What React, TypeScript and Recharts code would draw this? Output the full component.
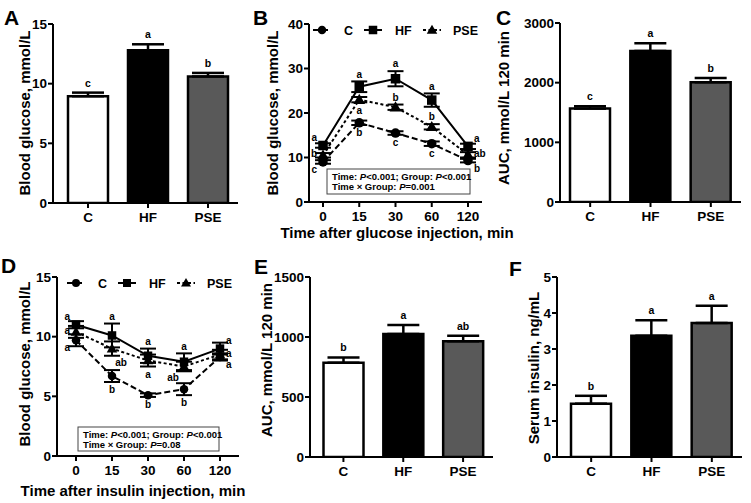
import React from "react";
import {
  BarChart,
  Bar,
  Cell,
  LineChart,
  Line,
  XAxis,
  YAxis,
  ErrorBar,
  LabelList,
} from "recharts";

const W = 751;
const H = 503;
const FONT = "Arial, 'Liberation Sans', Helvetica, sans-serif";

const GROUPS = ["C", "HF", "PSE"];
const GROUP_FILLS = ["#ffffff", "#000000", "#595959"];

// A - fasting blood glucose, mmol/L
const fastingGlucose = [8.95, 12.8, 10.6];
const fastingGlucoseSem = [0.3, 0.5, 0.3];
const fastingGlucoseSig = ["c", "a", "b"];

// B - glucose tolerance test, mmol/L
const ogttTimes = ["0", "15", "30", "60", "120"];
const ogttC = [9.0, 17.8, 15.5, 13.1, 9.3];
const ogttCSem = [0.4, 0.5, 0.4, 0.5, 0.4];
const ogttCSig = ["c", "b", "c", "c", "b"];
const ogttHF = [12.7, 25.9, 27.7, 22.9, 12.5];
const ogttHFSem = [0.5, 1.2, 1.7, 1.5, 0.6];
const ogttHFSig = ["a", "a", "a", "a", "a"];
const ogttPSE = [10.5, 23.0, 21.3, 16.9, 10.6];
const ogttPSESem = [0.5, 0.6, 0.6, 0.6, 0.6];
const ogttPSESig = ["b", "a", "b", "b", "ab"];

// C - OGTT area under curve
const ogttAuc = [1565, 2530, 2005];
const ogttAucSem = [40, 130, 75];
const ogttAucSig = ["c", "a", "b"];

// D - insulin tolerance test, mmol/L
const ittTimes = ["0", "15", "30", "60", "120"];
const ittC = [9.7, 6.7, 5.1, 5.6, 8.3];
const ittCSem = [0.5, 0.5, 0.15, 0.5, 0.3];
const ittCSig = ["a", "b", "b", "b", "a"];
const ittHF = [11.0, 10.1, 8.4, 7.9, 9.0];
const ittHFSem = [0.3, 1.0, 0.6, 0.7, 0.5];
const ittHFSig = ["a", "a", "a", "a", "a"];
const ittPSE = [10.4, 9.0, 8.0, 7.5, 8.5];
const ittPSESem = [0.5, 0.6, 0.5, 0.4, 0.4];
const ittPSESig = ["a", "ab", "a", "ab", "a"];

// E - ITT area under curve
const ittAuc = [785, 1025, 965];
const ittAucSem = [45, 75, 45];
const ittAucSig = ["b", "a", "ab"];

// F - serum insulin, ng/mL
const serumInsulin = [1.48, 3.37, 3.72];
const serumInsulinSem = [0.22, 0.43, 0.48];
const serumInsulinSig = ["b", "a", "a"];

const Y_AXIS_W = 40;
const X_AXIS_H = 30;
const axisStroke = { stroke: "#000", strokeWidth: 2 };
const tickStyle = { fontSize: 13.5, fontWeight: 700, fill: "#000", fontFamily: FONT };

const STYLE = {
  C: { shape: "circle", dash: "6 3", sideDy: 8 },
  HF: { shape: "square", dash: undefined, sideDy: -8 },
  PSE: { shape: "triangle", dash: "3 2.5", sideDy: -1 },
};

function Marker({ cx, cy, shape, size }: any) {
  if (cx == null || cy == null) return null;
  if (shape === "circle") return <circle cx={cx} cy={cy} r={size / 2} fill="#000" />;
  if (shape === "square")
    return <rect x={cx - size / 2} y={cy - size / 2} width={size} height={size} fill="#000" />;
  const w = size * 0.62;
  return (
    <polygon
      points={`${cx},${cy - size * 0.62} ${cx + w},${cy + size * 0.45} ${cx - w},${cy + size * 0.45}`}
      fill="#000"
    />
  );
}

function BarPanel({ plot, padLeft, values, sem, sig, max, ticks }: any) {
  const [x0, y0, x1, y1] = plot;
  const unit = (y1 - y0) / max;
  const data = GROUPS.map((name, i) => ({ name, value: values[i], sem: [0, sem[i]], sig: sig[i] }));
  const sigLabel = (p: any) => {
    const x = p.x ?? p.viewBox?.x;
    const y = p.y ?? p.viewBox?.y;
    const w = p.width ?? p.viewBox?.width;
    const top = y - sem[p.index] * unit;
    return (
      <text x={x + w / 2} y={top - 6} textAnchor="middle" fontSize={10.5} fontWeight={700} fontFamily={FONT} fill="#000">
        {p.value}
      </text>
    );
  };
  return (
    <div style={{ position: "absolute", left: 0, top: 0 }}>
      <BarChart
        width={W}
        height={H}
        data={data}
        margin={{ top: y0, right: W - x1, bottom: H - y1 - X_AXIS_H, left: x0 - Y_AXIS_W }}
      >
        <XAxis
          dataKey="name"
          height={X_AXIS_H}
          padding={{ left: padLeft, right: 0 }}
          axisLine={axisStroke}
          tickLine={axisStroke}
          tickSize={5}
          tickMargin={4}
          tick={tickStyle}
          interval={0}
        />
        <YAxis
          width={Y_AXIS_W}
          type="number"
          domain={[0, max]}
          ticks={ticks}
          allowDataOverflow
          axisLine={axisStroke}
          tickLine={axisStroke}
          tickSize={5}
          tickMargin={1}
          tick={tickStyle}
        />
        <Bar dataKey="value" barSize={40} stroke="#000" strokeWidth={2.5} isAnimationActive={false}>
          {data.map((d, i) => (
            <Cell key={d.name} fill={GROUP_FILLS[i]} />
          ))}
          <ErrorBar dataKey="sem" width={16} stroke="#000" strokeWidth={2.5} />
          <LabelList dataKey="sig" content={sigLabel} />
        </Bar>
      </BarChart>
    </div>
  );
}

function LinePanel({ plot, pad, times, series, max, ticks, size }: any) {
  const [x0, y0, x1, y1] = plot;
  const unit = (y1 - y0) / max;
  const data = times.map((t: string, i: number) => {
    const row: any = { time: t };
    series.forEach((s: any) => {
      row[s.key] = s.values[i];
      row[s.key + "Sem"] = s.sem[i];
      row[s.key + "Sig"] = s.sig[i];
    });
    return row;
  });
  const sigLabel = (s: any) => (p: any) => {
    const x = p.x ?? p.viewBox?.x;
    const y = p.y ?? p.viewBox?.y;
    const e = s.sem[p.index] * unit;
    const st = (STYLE as any)[s.key];
    let tx = x;
    let ty = y;
    let anchor = "middle";
    switch (s.place[p.index]) {
      case "L":
        tx = x - 6; ty = y + st.sideDy; anchor = "end"; break;
      case "R":
        tx = x + 6; ty = y + st.sideDy; anchor = "start"; break;
      case "A":
        ty = y - e - 7; break;
      case "B":
        ty = y + e + 8; break;
      case "BR":
        tx = x + 9; ty = y + e + 7; break;
      case "BL":
        tx = x - 11; ty = y + e + 7; break;
    }
    return (
      <text x={tx} y={ty} dy="0.32em" textAnchor={anchor} fontSize={10} fontWeight={700} fontFamily={FONT} fill="#000">
        {p.value}
      </text>
    );
  };
  return (
    <div style={{ position: "absolute", left: 0, top: 0 }}>
      <LineChart
        width={W}
        height={H}
        data={data}
        margin={{ top: y0, right: W - x1, bottom: H - y1 - X_AXIS_H, left: x0 - Y_AXIS_W }}
      >
        <XAxis
          dataKey="time"
          height={X_AXIS_H}
          padding={{ left: pad, right: pad }}
          axisLine={axisStroke}
          tickLine={axisStroke}
          tickSize={5}
          tickMargin={4}
          tick={tickStyle}
          interval={0}
        />
        <YAxis
          width={Y_AXIS_W}
          type="number"
          domain={[0, max]}
          ticks={ticks}
          allowDataOverflow
          axisLine={axisStroke}
          tickLine={axisStroke}
          tickSize={5}
          tickMargin={1}
          tick={tickStyle}
        />
        {series.map((s: any) => {
          const st = (STYLE as any)[s.key];
          return (
            <Line
              key={s.key}
              dataKey={s.key}
              stroke="#000"
              strokeWidth={2}
              strokeDasharray={st.dash}
              dot={(p: any) => <Marker key={`${s.key}-${p.index}`} cx={p.cx} cy={p.cy} shape={st.shape} size={size} />}
              activeDot={false}
              isAnimationActive={false}
            >
              <ErrorBar dataKey={s.key + "Sem"} width={8} stroke="#000" strokeWidth={2} direction="y" />
              <LabelList dataKey={s.key + "Sig"} content={sigLabel(s)} />
            </Line>
          );
        })}
      </LineChart>
    </div>
  );
}

function LegendRow({ x, y, size }: any) {
  const items = [
    { key: "C", icon: 0, text: 31 },
    { key: "HF", icon: 51, text: 82 },
    { key: "PSE", icon: 110, text: 140 },
  ];
  return (
    <g>
      {items.map((it) => {
        const st = (STYLE as any)[it.key];
        const ix = x + it.icon;
        return (
          <g key={it.key}>
            <line x1={ix} y1={y} x2={ix + 18} y2={y} stroke="#000" strokeWidth={2} strokeDasharray={st.dash} />
            <Marker cx={ix + 9} cy={y} shape={st.shape} size={size} />
            <text x={x + it.text} y={y + 4.5} fontSize={12.5} fontWeight={700} fontFamily={FONT}>
              {it.key}
            </text>
          </g>
        );
      })}
    </g>
  );
}

function StatsBox({ x, y, w, h, last }: any) {
  const t = { fontSize: 9.5, fontWeight: 700, fontFamily: FONT, fill: "#000" };
  return (
    <g>
      <rect x={x} y={y} width={w} height={h} fill="#fff" stroke="#444" strokeWidth={1} />
      <text x={x + 5} y={y + 10.5} {...t}>
        Time: <tspan fontStyle="italic">P</tspan>&lt;0.001; Group: <tspan fontStyle="italic">P</tspan>&lt;0.001
      </text>
      <text x={x + 5} y={y + 21} {...t}>
        Time × Group: <tspan fontStyle="italic">P</tspan>={last}
      </text>
    </g>
  );
}

function Overlay() {
  const letter = { fontSize: 21, fontWeight: 700, fontFamily: FONT, fill: "#000" };
  const title = { fontSize: 15, fontWeight: 700, fontFamily: FONT, fill: "#000", textAnchor: "middle" as const };
  const yTitle = (text: string, cx: number, cy: number) => (
    <text x={cx} y={cy} dy="0.35em" transform={`rotate(-90 ${cx} ${cy})`} {...title}>
      {text}
    </text>
  );
  return (
    <svg width={W} height={H} style={{ position: "absolute", left: 0, top: 0, pointerEvents: "none" }}>
      <text x={4} y={25} {...letter}>A</text>
      <text x={253} y={25} {...letter}>B</text>
      <text x={496} y={25} {...letter}>C</text>
      <text x={1} y={273} {...letter}>D</text>
      <text x={254} y={274} {...letter}>E</text>
      <text x={509} y={276} {...letter}>F</text>

      {yTitle("Blood glucose, mmol/L", 25, 113)}
      {yTitle("Blood glucose, mmol/L", 273, 113)}
      {yTitle("AUC, mmol/L 120 min", 504, 108)}
      {yTitle("Blood glucose, mmol/L", 25, 364)}
      {yTitle("AUC, mmol/L 120 min", 267, 360)}
      {yTitle("Serum insulin, ng/mL", 534, 368)}

      <text x={397} y={238} {...title}>Time after glucose injection, min</text>
      <text x={133} y={496} {...title}>Time after insulin injection, min</text>

      <LegendRow x={313} y={30} size={8.5} />
      <LegendRow x={67} y={283} size={8} />

      <StatsBox x={327} y={169} w={143} h={25} last="0.001" />
      <StatsBox x={78} y={427} w={141} h={24} last="0.08" />
    </svg>
  );
}

export default function App() {
  return (
    <div style={{ position: "absolute", left: 0, top: 0, width: W, height: H, background: "#fff", fontFamily: FONT }}>
      <BarPanel
        plot={[53, 24, 238, 203]}
        padLeft={5}
        values={fastingGlucose}
        sem={fastingGlucoseSem}
        sig={fastingGlucoseSig}
        max={15}
        ticks={[0, 5, 10, 15]}
      />
      <LinePanel
        plot={[309, 24, 482, 202]}
        pad={14}
        times={ogttTimes}
        max={40}
        ticks={[0, 10, 20, 30, 40]}
        size={9.5}
        series={[
          { key: "PSE", values: ogttPSE, sem: ogttPSESem, sig: ogttPSESig, place: ["L", "B", "A", "A", "R"] },
          { key: "C", values: ogttC, sem: ogttCSem, sig: ogttCSig, place: ["L", "B", "B", "B", "R"] },
          { key: "HF", values: ogttHF, sem: ogttHFSem, sig: ogttHFSig, place: ["L", "A", "A", "A", "R"] },
        ]}
      />
      <BarPanel
        plot={[560, 23, 741, 202]}
        padLeft={0}
        values={ogttAuc}
        sem={ogttAucSem}
        sig={ogttAucSig}
        max={3000}
        ticks={[0, 1000, 2000, 3000]}
      />
      <LinePanel
        plot={[57, 277, 239, 456]}
        pad={19}
        times={ittTimes}
        max={15}
        ticks={[0, 5, 10, 15]}
        size={8.5}
        series={[
          { key: "PSE", values: ittPSE, sem: ittPSESem, sig: ittPSESig, place: ["L", "BR", "B", "BL", "R"] },
          { key: "C", values: ittC, sem: ittCSem, sig: ittCSig, place: ["L", "B", "B", "B", "R"] },
          { key: "HF", values: ittHF, sem: ittHFSem, sig: ittHFSig, place: ["L", "A", "A", "A", "R"] },
        ]}
      />
      <BarPanel
        plot={[310, 277, 493, 457]}
        padLeft={3.5}
        values={ittAuc}
        sem={ittAucSem}
        sig={ittAucSig}
        max={1500}
        ticks={[0, 500, 1000, 1500]}
      />
      <BarPanel
        plot={[557, 277, 742, 457]}
        padLeft={4}
        values={serumInsulin}
        sem={serumInsulinSem}
        sig={serumInsulinSig}
        max={5}
        ticks={[0, 1, 2, 3, 4, 5]}
      />
      <Overlay />
    </div>
  );
}
